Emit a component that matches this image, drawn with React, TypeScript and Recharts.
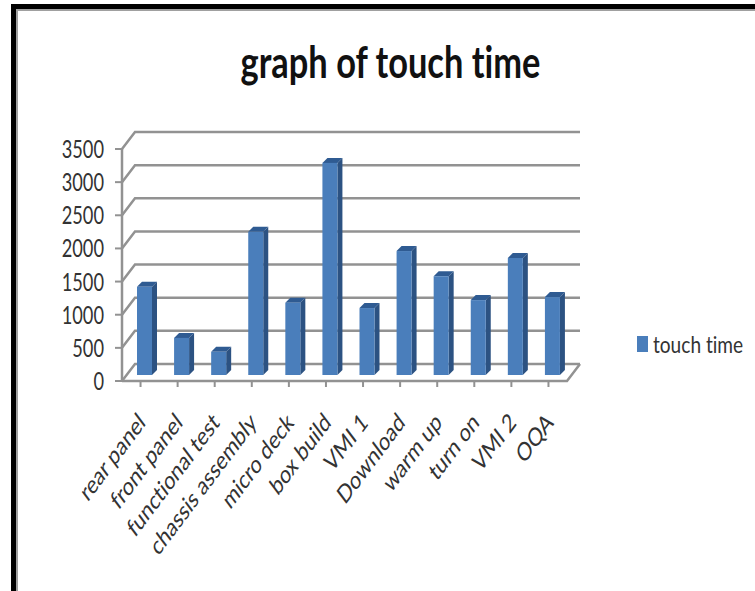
import React from "react";
import { BarChart, Bar, XAxis, YAxis, CartesianGrid, Legend } from "recharts";

const stations = ["rear panel", "front panel", "functional test", "chassis assembly", "micro deck", "box build", "VMI 1", "Download", "warm up", "turn on", "VMI 2", "OQA"];
const touchTime = [1330, 560, 350, 2160, 1090, 3200, 1010, 1870, 1490, 1130, 1765, 1175];
const valueTicks = [0, 500, 1000, 1500, 2000, 2500, 3000, 3500];
const rows = stations.map((station, i) => ({ station, touchTime: touchTime[i] }));

const FONT = "Lato, 'Open Sans', sans-serif";
const TEXT = "#333333";
const GRID = "#929292";
// Oblique offset of the back wall relative to the front of the floor.
const WALL_DX = 13;
const WALL_DY = -17;
const FLOOR_Y = 381;

// One gridline: short diagonal up the side wall, then across the back wall.
const WallLine = (props: any) => {
  const { x1, x2, y1 } = props;
  const bx = x1 + WALL_DX;
  const by = y1 + WALL_DY;
  const isFloor = Math.abs(y1 - FLOOR_Y) < 1;
  return (
    <g fill="none" stroke={GRID} strokeWidth={2.5}>
      <polyline points={`${x1},${y1} ${bx},${by} ${x2 + WALL_DX},${by}`} />
      {isFloor && <polyline points={`${x1},${y1} ${x2},${y1} ${x2 + WALL_DX},${by}`} />}
    </g>
  );
};

// Extruded column: front face, darker right side and top.
const Column = (props: any) => {
  const { x, y, width, height } = props;
  const fx = x + 4;
  const fy = y - 6;
  const d = 5;
  const r = fx + width;
  const b = fy + height;
  return (
    <g>
      <polygon points={`${fx},${fy} ${fx + d},${fy - 5} ${r + d},${fy - 5} ${r},${fy}`} fill="#2f5b92" />
      <polygon points={`${r},${fy} ${r + d},${fy - 5} ${r + d},${b - 5} ${r},${b}`} fill="#2c5282" />
      <rect x={fx} y={fy} width={width} height={height} fill="#4a7ebb" />
    </g>
  );
};

const SlantedTick = ({ x, y, payload }: any) => (
  <text
    x={0}
    y={0}
    textAnchor="end"
    transform={`translate(${x + 6} ${y + 35}) scale(0.87 1.16) rotate(-45)`}
    fontFamily={FONT}
    fontSize={22}
    style={{ fontVariantLigatures: "none" }}
    fill={TEXT}
  >
    {payload.value}
  </text>
);

// Value labels use a tall, narrow set of the digits.
const ValueTick = ({ x, y, payload }: any) => (
  <text
    x={0}
    y={0}
    dy={9}
    textAnchor="end"
    transform={`translate(${x} ${y}) scale(0.73 1)`}
    fontFamily={FONT}
    fontSize={25}
    fill={TEXT}
  >
    {payload.value}
  </text>
);

const LegendKey = () => (
  <div style={{ position: "relative", width: 140, height: 30, fontFamily: FONT, color: TEXT, whiteSpace: "nowrap" }}>
    <span style={{ position: "absolute", left: 0, top: 3, width: 11, height: 16, background: "#4a7ebb" }} />
    <span style={{ position: "absolute", left: 16, top: -3, fontSize: 23, lineHeight: "28px", transform: "scaleX(0.83)", transformOrigin: "left center", fontVariantLigatures: "none" }}>
      touch time
    </span>
  </div>
);

export default function App() {
  return (
    <div style={{ position: "absolute", left: 0, top: 0, width: 755, height: 591, background: "#fff", overflow: "hidden" }}>
      <div style={{ position: "absolute", left: 11, top: 4, right: -10, bottom: -10, borderLeft: "5px solid #000", borderTop: "5px solid #000" }} />
      <div style={{ position: "absolute", left: 16, top: 9, right: -10, bottom: -10, borderLeft: "2px solid #a0a0a0", borderTop: "2px solid #a0a0a0" }} />
      <div style={{ position: "absolute", left: 0, top: 34, width: 781, textAlign: "center", fontFamily: FONT, fontWeight: 700, fontSize: 43, lineHeight: "56px", color: "#111", transform: "scaleX(0.8)", transformOrigin: "390.5px 0", fontVariantLigatures: "none" }}>
        graph of touch time
      </div>
      <div style={{ position: "absolute", left: 0, top: 0 }}>
        <BarChart width={755} height={591} data={rows} margin={{ top: 149, left: 0, right: 48, bottom: 0 }}>
          <CartesianGrid vertical={false} horizontal={WallLine as any} />
          <XAxis
            dataKey="station"
            height={210}
            interval={0}
            tick={<SlantedTick />}
            tickSize={6}
            axisLine={false}
            tickLine={{ stroke: GRID, strokeWidth: 2 }}
          />
          <YAxis
            width={122}
            domain={[0, 3500]}
            ticks={valueTicks}
            tickSize={7}
            tickMargin={11}
            interval={0}
            axisLine={{ stroke: GRID, strokeWidth: 2.5 }}
            tickLine={{ stroke: GRID, strokeWidth: 2 }}
            tick={<ValueTick />}
          />
          <Legend layout="vertical" align="right" verticalAlign="middle" width={140} wrapperStyle={{ top: 333, left: 637, right: "auto" }} content={<LegendKey />} />
          <Bar dataKey="touchTime" name="touch time" barSize={15} fill="#4a7ebb" shape={<Column />} isAnimationActive={false} />
        </BarChart>
      </div>
    </div>
  );
}
